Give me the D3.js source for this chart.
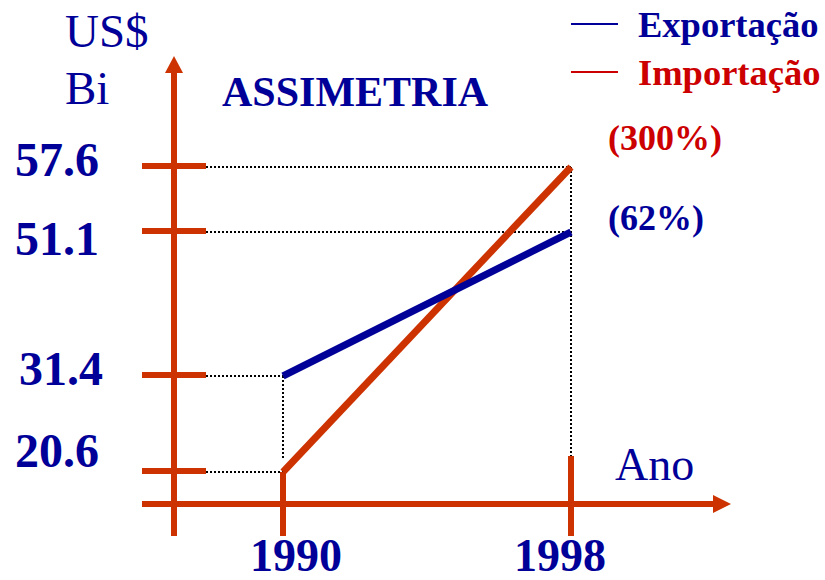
<!DOCTYPE html>
<html>
<head>
<meta charset="utf-8">
<script src="https://cdn.jsdelivr.net/npm/d3@7/dist/d3.min.js"></script>
<style>
  html, body { margin: 0; padding: 0; background: #fff; }
  svg { display: block; }
  text { font-family: "Liberation Serif", "Times New Roman", serif; }
</style>
</head>
<body>
<svg id="chart" width="825" height="580"></svg>
<script>
// ---- data ----
const years = [1990, 1998];
const exportValues = [31.4, 51.1];
const importValues = [20.6, 57.6];
const yTickValues = [20.6, 31.4, 51.1, 57.6];
const yTickLabels = ["20.6", "31.4", "51.1", "57.6"];
const xTickLabels = ["1990", "1998"];
const seriesNames = ["Exportação", "Importação"];
const growthLabels = ["(62%)", "(300%)"];

// ---- styles ----
const BLUE = "#000099";
const RED_TEXT = "#cc0000";
const AXIS = "#cc3300";
const IMPORT_COLOR = "#cc3300";

const svg = d3.select("#chart");

// schematic (piecewise-linear) value scale, as in the original drawing
const y = d3.scaleLinear().domain([20.6, 31.4, 51.1, 57.6]).range([472, 376, 232, 167]);
const x = d3.scaleLinear().domain([1990, 1998]).range([283, 571]);

const axisX = 174, axisY = 504;
const tickL = 142, tickR = 206;

// dotted guide lines
const guides = svg.append("g").attr("stroke", "#000").attr("stroke-width", 2).attr("stroke-dasharray", "2,2").attr("fill", "none");
[0, 1].forEach(i => {
  guides.append("line").attr("x1", tickR).attr("x2", x(years[i])).attr("y1", y(exportValues[i])).attr("y2", y(exportValues[i]));
  guides.append("line").attr("x1", tickR).attr("x2", x(years[i])).attr("y1", y(importValues[i])).attr("y2", y(importValues[i]));
});
guides.append("line").attr("x1", x(years[0])).attr("x2", x(years[0])).attr("y1", y(exportValues[0])).attr("y2", y(importValues[0]) - 14);
guides.append("line").attr("x1", x(years[1])).attr("x2", x(years[1])).attr("y1", y(importValues[1])).attr("y2", 470);

// axes
const ax = svg.append("g").attr("stroke", AXIS).attr("stroke-width", 6).attr("fill", "none");
ax.append("line").attr("x1", axisX).attr("x2", axisX).attr("y1", 536).attr("y2", 70);
ax.append("line").attr("x1", tickL).attr("x2", 716).attr("y1", axisY).attr("y2", axisY);
svg.append("path").attr("fill", AXIS).attr("d", `M${axisX - 9},73 L${axisX},56 L${axisX + 9},73 Z`);
svg.append("path").attr("fill", AXIS).attr("d", `M713,${axisY - 9} L731,${axisY} L713,${axisY + 9} Z`);

// y ticks
ax.selectAll(".yt").data(yTickValues).enter().append("line")
  .attr("x1", tickL).attr("x2", tickR).attr("y1", d => y(d) - 1).attr("y2", d => y(d) - 1);
// x ticks
const xTickTop = [y(importValues[0]), 456];
ax.selectAll(".xt").data(years).enter().append("line")
  .attr("x1", d => x(d)).attr("x2", d => x(d)).attr("y1", (d, i) => xTickTop[i]).attr("y2", 536);

// series lines
const line = d3.line().x(d => x(d[0])).y(d => y(d[1]));
svg.append("path").datum(years.map((yr, i) => [yr, importValues[i]]))
  .attr("d", line).attr("fill", "none").attr("stroke", IMPORT_COLOR).attr("stroke-width", 7);
svg.append("path").datum(years.map((yr, i) => [yr, exportValues[i]]))
  .attr("d", line).attr("fill", "none").attr("stroke", BLUE).attr("stroke-width", 7);

// y tick labels
const yLabelNudge = [-5, 9, 23, 9];
const yLabelX = [15, 19, 15, 15];
svg.selectAll(".yl").data(yTickValues).enter().append("text")
  .attr("x", (d, i) => yLabelX[i]).attr("y", (d, i) => y(d) + yLabelNudge[i])
  .attr("font-size", 48).attr("font-weight", "bold").attr("fill", BLUE)
  .text((d, i) => yTickLabels[i]);

// x tick labels
const xLabelNudge = [13, -11];
svg.selectAll(".xl").data(years).enter().append("text")
  .attr("x", (d, i) => x(d) + xLabelNudge[i]).attr("y", 571).attr("text-anchor", "middle")
  .attr("font-size", 46).attr("font-weight", "bold").attr("fill", BLUE)
  .text((d, i) => xTickLabels[i]);

// axis titles
svg.append("text").attr("x", 65).attr("y", 47).attr("font-size", 47).attr("fill", BLUE).text("US$");
svg.append("text").attr("x", 65).attr("y", 104).attr("font-size", 47).attr("fill", BLUE).text("Bi");
svg.append("text").attr("x", 615).attr("y", 480).attr("font-size", 46).attr("fill", BLUE).text("Ano");

// title
svg.append("text").attr("x", 222).attr("y", 106).attr("font-size", 42).attr("font-weight", "bold").attr("fill", BLUE).text("ASSIMETRIA");

// legend
const legendColors = [BLUE, RED_TEXT];
const legendY = [24, 72];
const lg = svg.append("g");
seriesNames.forEach((name, i) => {
  lg.append("line").attr("x1", 571).attr("x2", 618).attr("y1", legendY[i]).attr("y2", legendY[i])
    .attr("stroke", legendColors[i]).attr("stroke-width", 2);
  lg.append("text").attr("x", 638).attr("y", legendY[i] + 13).attr("font-size", 36.5).attr("font-weight", "bold")
    .attr("fill", legendColors[i]).text(name);
});

// growth annotations
const growthY = [230, 150];
const growthColors = [BLUE, RED_TEXT];
growthLabels.forEach((g, i) => {
  svg.append("text").attr("x", 608).attr("y", growthY[i]).attr("font-size", 36).attr("font-weight", "bold")
    .attr("fill", growthColors[i]).text(g);
});
</script>
</body>
</html>
